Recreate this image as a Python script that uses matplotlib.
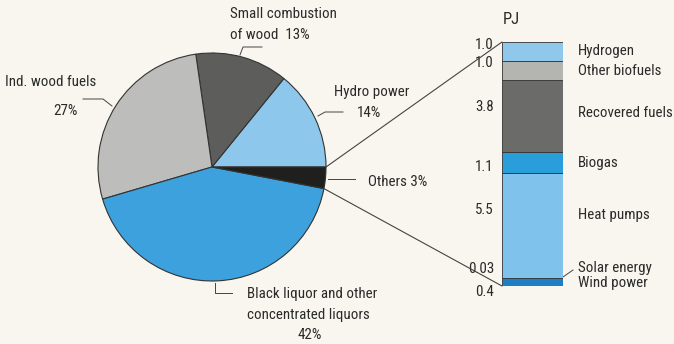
import numpy as np
import matplotlib
matplotlib.use("Agg")
import matplotlib.pyplot as plt
from matplotlib.patches import ConnectionPatch

plt.rcParams["font.family"] = ["Roboto Condensed", "DejaVu Sans"]

# ── data ──────────────────────────────────────────────────────────────────────
pie_names  = ["Hydro power", "Small combustion of wood", "Ind. wood fuels",
              "Black liquor and other concentrated liquors", "Others"]
pie_pct    = [14, 13, 27, 42, 3]
pie_colors = ["#8ec7ec", "#5d5d5b", "#bdbdbb", "#3ca1dc", "#1f1f1d"]

# stacked bar, bottom -> top
bar_names  = ["Wind power", "Solar energy", "Heat pumps", "Biogas",
              "Recovered fuels", "Other biofuels", "Hydrogen"]
bar_pj     = [0.4, 0.03, 5.5, 1.1, 3.8, 1.0, 1.0]
bar_colors = ["#1b7ec6", "#1b5f96", "#7fc2ec", "#2a9ddb",
              "#6b6b69", "#b4b4b0", "#90c8ec"]

BG   = "#f8f6ee"
TXT  = "#2a2a2a"
LINE = "#444444"
FS   = 10.8

W, H = 674, 344
fig = plt.figure(figsize=(W / 100, H / 100), dpi=100, facecolor=BG)

# overlay in pixel coords (y down) for labels and leaders
ov = fig.add_axes([0, 0, 1, 1], zorder=0)
ov.set_xlim(0, W)
ov.set_ylim(H, 0)
ov.axis("off")

# ── pie ───────────────────────────────────────────────────────────────────────
cx, cy, r = 212, 167, 114
axp = fig.add_axes([(cx - r) / W, (H - cy - r) / H, 2 * r / W, 2 * r / H], zorder=1)
wedges, _ = axp.pie(pie_pct, colors=pie_colors, startangle=0, counterclock=True,
                    wedgeprops=dict(edgecolor="#333333", linewidth=0.8))
axp.set_xlim(-1, 1)
axp.set_ylim(-1, 1)
axp.set_aspect("equal")
axp.patch.set_alpha(0)

# ── stacked bar ───────────────────────────────────────────────────────────────
bx0, bx1, by0, by1 = 502, 563, 42, 286
axb = fig.add_axes([bx0 / W, (H - by1) / H, (bx1 - bx0) / W, (by1 - by0) / H], zorder=1)
total = float(np.sum(bar_pj))
bottoms = np.concatenate([[0], np.cumsum(bar_pj)[:-1]])
axb.bar(0, bar_pj, bottom=bottoms, width=1.0, color=bar_colors,
        edgecolor="#333333", linewidth=0.6)
axb.set_xlim(-0.5, 0.5)
axb.set_ylim(0, total)
axb.axis("off")

# connector lines from the "Others" wedge to the bar
oth = wedges[-1]
for ang, ybar in [(oth.theta2, total), (oth.theta1, 0)]:
    a = np.deg2rad(ang)
    con = ConnectionPatch(xyA=(np.cos(a), np.sin(a)), coordsA=axp.transData,
                          xyB=(-0.5, ybar), coordsB=axb.transData,
                          color=LINE, lw=0.8, zorder=3)
    fig.add_artist(con)

# ── pie labels ────────────────────────────────────────────────────────────────
ov.text(230, 14, "Small combustion", fontsize=FS, color=TXT, va="center")
ov.text(230, 35, "of wood  %d%%" % pie_pct[1], fontsize=FS, color=TXT, va="center")
ov.plot([262, 243, 240], [47, 47, 55], color=LINE, lw=0.7)

ov.text(5, 82, "Ind. wood fuels", fontsize=FS, color=TXT, va="center")
ov.text(65, 111, "%d%%" % pie_pct[2], fontsize=FS, color=TXT, va="center", ha="center")
ov.plot([83, 103, 112], [99, 99, 106], color=LINE, lw=0.7)

ov.text(334, 92, "Hydro power", fontsize=FS, color=TXT, va="center")
ov.text(357, 113, "%d%%" % pie_pct[0], fontsize=FS, color=TXT, va="center")
ov.plot([318, 325, 343], [116, 112, 112], color=LINE, lw=0.7)

ov.text(368, 182, "Others %d%%" % pie_pct[4], fontsize=FS, color=TXT, va="center")
ov.plot([328, 355], [179, 179], color=LINE, lw=0.7)

ov.text(247, 294, "Black liquor and other", fontsize=FS, color=TXT, va="center")
ov.text(247, 315, "concentrated liquors", fontsize=FS, color=TXT, va="center")
ov.text(310, 335, "%d%%" % pie_pct[3], fontsize=FS, color=TXT, va="center", ha="center")
ov.plot([215, 215, 232], [283, 293, 293], color=LINE, lw=0.7)

# ── bar labels ────────────────────────────────────────────────────────────────
ov.text(511, 20, "PJ", fontsize=12, color=TXT, va="center", ha="center")
val_y  = [292, 269, 210, 167, 107, 63, 45]
name_y = [283, 268, 215, 163, 113, 71, 51]
for v, name, vy, ny in zip(bar_pj, bar_names, val_y, name_y):
    txt = "%.2f" % v if v < 0.1 else "%.1f" % v
    ov.text(494, vy, txt, fontsize=FS, color=TXT, va="center", ha="right")
    ov.text(578, ny, name, fontsize=FS, color=TXT, va="center", ha="left")
ov.plot([563, 573], [277, 270], color=LINE, lw=0.7)

fig.savefig("out.png", dpi=100, facecolor=BG)
